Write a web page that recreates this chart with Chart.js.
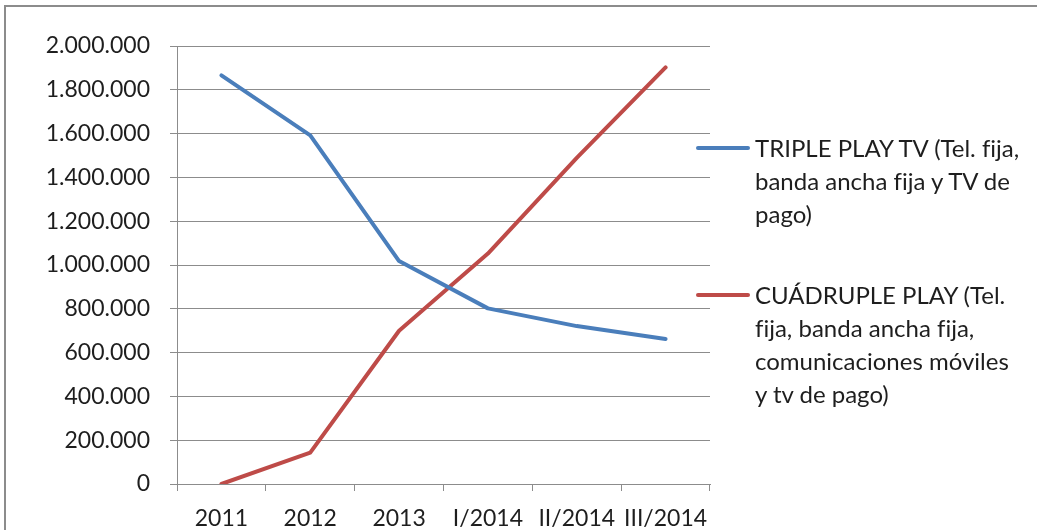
<!DOCTYPE html>
<html>
<head>
<meta charset="utf-8">
<script src="https://cdn.jsdelivr.net/npm/chart.js@4"></script>
<style>
  html, body { margin: 0; padding: 0; background: #fff; overflow: hidden; }
  #wrap { position: relative; width: 1037px; height: 530px; }
  #frame { position: absolute; left: 4px; top: 5px; width: 1100px; height: 600px; border: 2px solid #8c8c8c; }
  canvas { position: absolute; left: 0; top: 0; }
  .legend { position: absolute; left: 696px; font-family: Lato, sans-serif; font-size: 24px; line-height: 33px; color: #1e1e1e; font-variant-ligatures: none; }
  .legend .item { position: absolute; left: 0; white-space: nowrap; }
  .legend .swatch { position: absolute; left: 0; width: 54px; height: 4px; border-radius: 2px; }
  .legend .txt { position: absolute; left: 59px; top: -17px; }
</style>
</head>
<body>
<div id="wrap">
  <div id="frame"></div>
  <canvas id="chart" width="1037" height="530"></canvas>
  <div class="legend" style="top:0">
    <div class="item" style="top:148px">
      <div class="swatch" style="background:#4a7ebb; top:-2px"></div>
      <div class="txt">TRIPLE PLAY TV (Tel. fija,<br>banda ancha fija y TV de<br>pago)</div>
    </div>
    <div class="item" style="top:295px">
      <div class="swatch" style="background:#be4b48; top:-2px"></div>
      <div class="txt">CUÁDRUPLE PLAY (Tel.<br>fija, banda ancha fija,<br>comunicaciones móviles<br>y tv de pago)</div>
    </div>
  </div>
</div>
<script>
const categories = ["2011", "2012", "2013", "I/2014", "II/2014", "III/2014"];
const triplePlay = [1866000, 1592000, 1018000, 802000, 721000, 662000];
const cuadruplePlay = [0, 143000, 700000, 1052000, 1489000, 1902000];
const seriesNames = ["TRIPLE PLAY TV (Tel. fija, banda ancha fija y TV de pago)",
  "CUÁDRUPLE PLAY (Tel. fija, banda ancha fija, comunicaciones móviles y tv de pago)"];

function fmt(v) {
  return Math.round(v).toString().replace(/\B(?=(\d{3})+(?!\d))/g, ".");
}

const font = { family: "Lato, sans-serif", size: 23 };

new Chart(document.getElementById("chart"), {
  type: "line",
  data: {
    labels: categories,
    datasets: [
      { label: seriesNames[0], data: triplePlay, borderColor: "#4a7ebb", borderWidth: 4, pointRadius: 0, tension: 0, borderCapStyle: "round", borderJoinStyle: "round" },
      { label: seriesNames[1], data: cuadruplePlay, borderColor: "#be4b48", borderWidth: 4, pointRadius: 0, tension: 0, borderCapStyle: "round", borderJoinStyle: "round" }
    ]
  },
  options: {
    responsive: false,
    animation: false,
    layout: { padding: { left: 0, right: 327, top: 46, bottom: 0 } },
    plugins: { legend: { display: false }, tooltip: { enabled: false } },
    scales: {
      x: {
        offset: true,
        grid: { offset: true, drawOnChartArea: false, drawTicks: true, tickLength: 7, color: "#8c8c8c", lineWidth: 1 },
        border: { display: true, color: "#8c8c8c", width: 1 },
        ticks: { font: font, color: "#1e1e1e", padding: 14, maxRotation: 0, autoSkip: false },
        afterFit: s => { s.height = 46; }
      },
      y: {
        min: 0, max: 2000000,
        grid: { drawOnChartArea: true, drawTicks: true, tickLength: 7, color: "#8c8c8c", lineWidth: 1 },
        border: { display: true, color: "#8c8c8c", width: 1 },
        ticks: { stepSize: 200000, font: font, color: "#1e1e1e", padding: 20, callback: v => fmt(v) },
        afterFit: s => { s.width = 177; }
      }
    }
  }
});
</script>
</body>
</html>
